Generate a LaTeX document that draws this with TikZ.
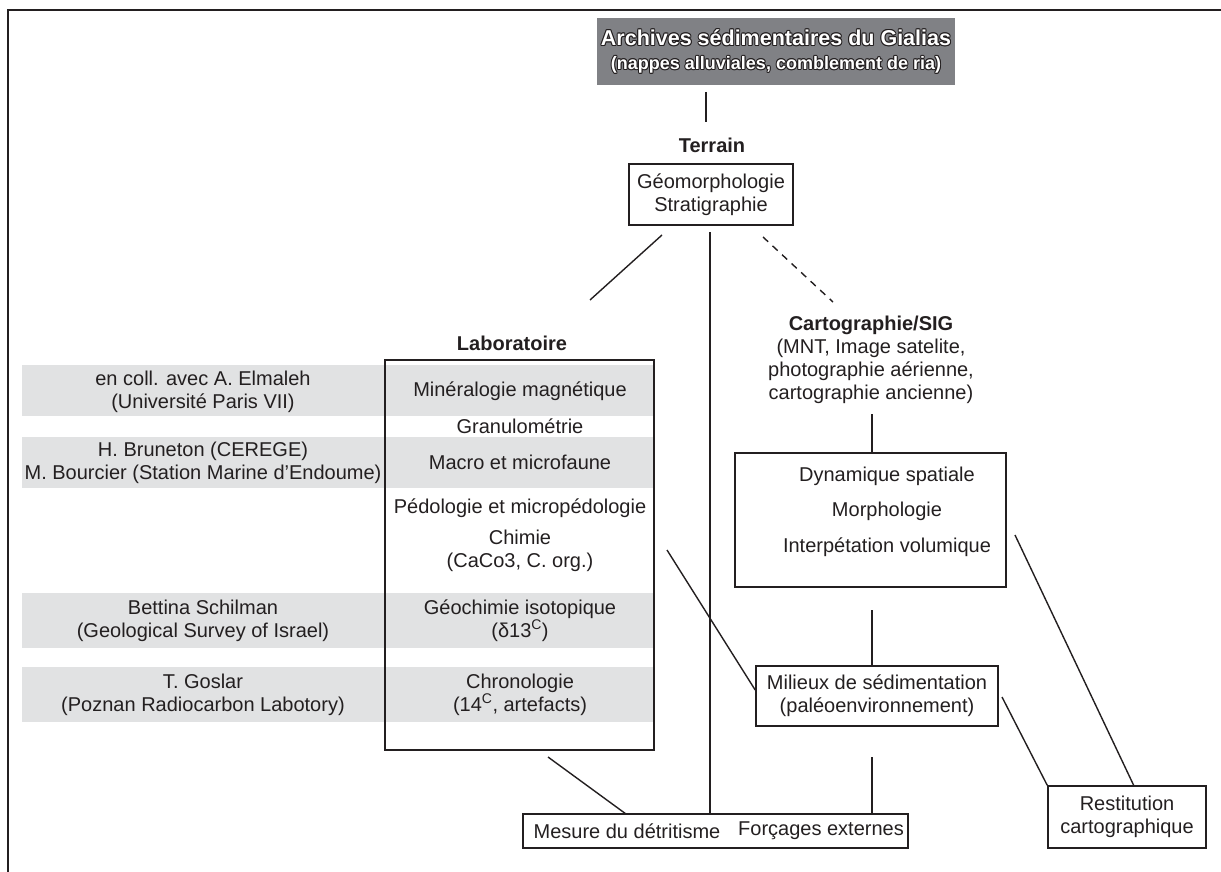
\documentclass[tikz,border=0pt]{standalone}
\usepackage{fontspec}
\setmainfont{Liberation Sans}
\usetikzlibrary{positioning}
\definecolor{ink}{RGB}{35,31,32}
\definecolor{bandGray}{RGB}{225,226,227}
\definecolor{titleGray}{RGB}{128,129,133}
% white letters with a thin dark rim, for the title
\newcommand{\outlined}[1]{{\setbox0=\hbox{#1}%
 \rlap{\color{ink}\kern-1pt\copy0}\rlap{\color{ink}\kern1pt\copy0}%
 \rlap{\color{ink}\raise1pt\copy0}\rlap{\color{ink}\lower1pt\copy0}%
 \rlap{\color{ink}\kern-.7pt\raise.7pt\copy0}\rlap{\color{ink}\kern.7pt\raise.7pt\copy0}%
 \rlap{\color{ink}\kern-.7pt\lower.7pt\copy0}\rlap{\color{ink}\kern.7pt\lower.7pt\copy0}%
 \textcolor{white}{\box0}}}
\tikzset{
 box/.style={draw=ink, line width=1.6pt, inner sep=0pt},
 link/.style={draw=ink, line width=1.4pt},
 txt/.style={text=ink, font=\fontsize{20}{23}\selectfont, align=center, inner sep=0pt},
 lbl/.style={txt, font=\fontsize{20}{23}\selectfont\bfseries}
}
\begin{document}
\begin{tikzpicture}[x=1pt,y=-1pt]
\useasboundingbox (0,0) rectangle (1221,872);
\draw[ink, line width=2pt] (1221,10) -- (8,10) -- (8,872);

% title
\node[txt, fill=titleGray, minimum width=358pt, minimum height=67pt] (title) at (776,51.5)
  {\outlined{\fontsize{21.5}{25}\selectfont\bfseries Archives sédimentaires du Gialias}\\[1pt]
   \outlined{\fontsize{18}{22}\selectfont\bfseries (nappes alluviales, comblement de ria)}};

% terrain
\node[lbl] (terrain) at (712,145) {Terrain};
\node[box, txt, minimum width=164pt, minimum height=61pt] (geo) at (711,194.5) {Géomorphologie\\Stratigraphie};

% laboratoire
\fill[bandGray] (22,365) rectangle (654,416);
\fill[bandGray] (22,437) rectangle (654,488);
\fill[bandGray] (22,593) rectangle (654,648);
\fill[bandGray] (22,667) rectangle (654,722);
\node[lbl] (labtitle) at (512,343) {Laboratoire};
\node[box, minimum width=269pt, minimum height=390pt] (lab) at (519.5,555) {};

\node[txt] (coll) at (203,391.5) {en coll. avec A. Elmaleh\\(Université Paris VII)};
\node[txt] (brun) at (203,462.5) {H. Bruneton (CEREGE)\\M. Bourcier (Station Marine d'Endoume)};
\node[txt] (schil) at (203,620.5) {Bettina Schilman\\(Geological Survey of Israel)};
\node[txt] (gosl) at (203,694.5) {T. Goslar\\(Poznan Radiocarbon Labotory)};

\node[txt] (miner) at (520,391) {Minéralogie magnétique};
\node[txt] (granu) at (520,426) {Granulométrie};
\node[txt] (macro) at (520,462.5) {Macro et microfaune};
\node[txt] (pedo) at (520,508) {Pédologie et micropédologie};
\node[txt] (chim) at (520,551) {Chimie\\(CaCo3, C. org.)};
\node[txt] (geoch) at (520,620.5) {Géochimie isotopique\\(δ13\textsuperscript{C})};
\node[txt] (chrono) at (520,694.5) {Chronologie\\(14\textsuperscript{C}, artefacts)};

% cartographie
\node[txt] (carto) at (871,359.5) {\textbf{Cartographie/SIG}\\(MNT, Image satelite,\\photographie aérienne,\\cartographie ancienne)};
\node[box, minimum width=271pt, minimum height=134pt] (dyn) at (870.5,520) {};
\node[txt] (dyntxt) at (887,512) {Dynamique spatiale\\[12pt]Morphologie\\[13pt]Interpétation volumique};

% synthese
\node[box, txt, minimum width=242pt, minimum height=60pt] (milieux) at (877,696) {Milieux de sédimentation\\(paléoenvironnement)};
\node[box, minimum width=385pt, minimum height=34pt] (mesure) at (715.5,831) {};
\node[txt] (detrit) at (627,831) {Mesure du détritisme};
\node[txt] (forcage) at (821,831) {Forçages externes};
\node[box, txt, minimum width=158pt, minimum height=62pt] (restit) at (1127,817) {Restitution\\cartographique};

% liens
\coordinate (a1) at (706,92);   \coordinate (a2) at (706,122);
\coordinate (b1) at (662,235);  \coordinate (b2) at (590,300);
\coordinate (c1) at (710,232);
\coordinate (d1) at (763,237);  \coordinate (d2) at (833,302);
\coordinate (e1) at (872,414);
\coordinate (f1) at (872,610);
\coordinate (g1) at (667,550);
\coordinate (h1) at (872,757);
\coordinate (i1) at (548,757);
\coordinate (j1) at (1002,697);
\coordinate (k1) at (1015,535);

\draw[link] (a1) -- (a2);
\draw[link] (b1) -- (b2);
\draw[link] (c1) -- (c1 |- mesure.north);
\draw[link, dash pattern=on 7pt off 6pt] (d1) -- (d2);
\draw[link] (e1) -- (e1 |- dyn.north);
\draw[link] (f1) -- (f1 |- milieux.north);
\draw[link] (g1) -- (milieux.west |- 0,690);
\draw[link] (h1) -- (h1 |- mesure.north);
\draw[link] (i1) -- (626,814);
\draw[link] (j1) -- (restit.north west);
\draw[link] (k1) -- (1134,786);
\end{tikzpicture}
\end{document}
